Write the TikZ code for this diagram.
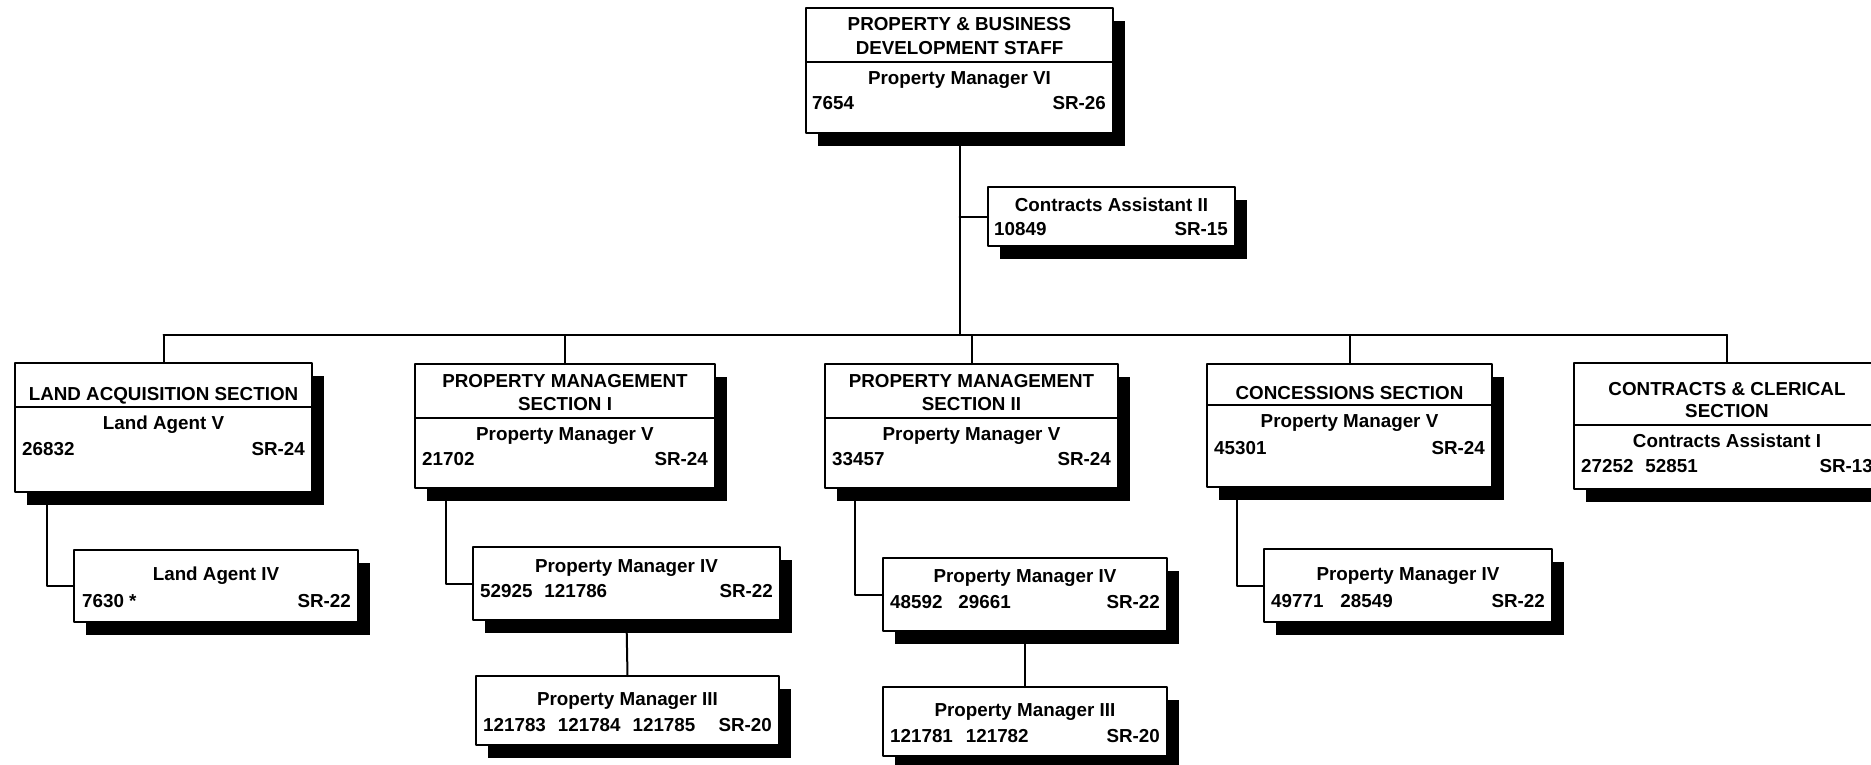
\documentclass[tikz,border=0pt]{standalone}
\usepackage{fontspec}
\setmainfont{Liberation Sans}
\usetikzlibrary{shadows}
\tikzset{
  posbox/.style={draw, fill=white, line width=2pt, inner sep=0pt, outer sep=0pt, anchor=north west,
    drop shadow={shadow xshift=12pt, shadow yshift=-13pt, fill=black, opacity=1}},
  txt/.style={inner sep=0pt, font=\bfseries\fontsize{18.8}{22}\selectfont},
  ctr/.style={txt, anchor=base},
  lft/.style={txt, anchor=base west},
  rgt/.style={txt, anchor=base east},
  link/.style={line width=2pt}
}
\begin{document}
\begin{tikzpicture}[line cap=round,line join=round,x=1pt,y=-1pt]
	\useasboundingbox (0,0) rectangle (1871,765);
	\clip (0,0) rectangle (1871,765);
	\coordinate (bus) at (0,335);
	% head office
	\node[posbox, minimum width=307, minimum height=125] (top) at (806,8) {};
	\node[posbox, minimum width=247, minimum height=59] (ca2) at (988,187) {};
	% sections
	\node[posbox, minimum width=297, minimum height=129] (land) at (15,363) {};
	\node[posbox, minimum width=300, minimum height=124] (pm1) at (415,364) {};
	\node[posbox, minimum width=293, minimum height=124] (pm2) at (825,364) {};
	\node[posbox, minimum width=285, minimum height=123] (conc) at (1207,364) {};
	\node[posbox, minimum width=306, minimum height=126] (cler) at (1574,363) {};
	% lower posts
	\node[posbox, minimum width=284, minimum height=72] (la4) at (74,550) {};
	\node[posbox, minimum width=307, minimum height=73] (pm4a) at (473,547) {};
	\node[posbox, minimum width=303, minimum height=69] (pm3a) at (476,676) {};
	\node[posbox, minimum width=284, minimum height=73] (pm4b) at (883,558) {};
	\node[posbox, minimum width=284, minimum height=69] (pm3b) at (883,687) {};
	\node[posbox, minimum width=288, minimum height=73] (pm4c) at (1264,549) {};
	% dividers
	\draw[link] ([yshift=-54pt]top.north west) -- ([yshift=-54pt]top.north east);
	\draw[link] ([yshift=-44pt]land.north west) -- ([yshift=-44pt]land.north east);
	\draw[link] ([yshift=-54pt]pm1.north west) -- ([yshift=-54pt]pm1.north east);
	\draw[link] ([yshift=-54pt]pm2.north west) -- ([yshift=-54pt]pm2.north east);
	\draw[link] ([yshift=-41pt]conc.north west) -- ([yshift=-41pt]conc.north east);
	\draw[link] ([yshift=-62pt]cler.north west) -- ([yshift=-62pt]cler.north east);
	% connectors
	\draw[link] (top.south) -- (top.south |- bus);
	\draw[link] (ca2.west) -- (ca2.west -| top.south);
	\draw[link] (land.north |- bus) -- (cler.north |- bus);
	\foreach \s in {land,pm1,pm2,conc,cler}
		\draw[link] (\s.north) -- (\s.north |- bus);
	\draw[link] ([xshift=32pt]land.south west) |- (la4.west);
	\draw[link] ([xshift=31pt]pm1.south west) |- (pm4a.west);
	\draw[link] ([xshift=30pt]pm2.south west) |- (pm4b.west);
	\draw[link] ([xshift=30pt]conc.south west) |- (pm4c.west);
	\draw[link] (pm4a.south) -- (pm3a.north);
	\draw[link] (pm4b.south) -- (pm3b.north);
	% texts
	\node[ctr] (top-h1) at ([yshift=-23pt]top.north) {PROPERTY \& BUSINESS};
	\node[ctr] (top-h2) at ([yshift=-47pt]top.north) {DEVELOPMENT STAFF};
	\node[ctr] (top-t) at ([yshift=-77pt]top.north) {Property Manager VI};
	\node[lft] (top-n) at ([xshift=6pt,yshift=-102pt]top.north west) {7654};
	\node[rgt] (top-g) at ([xshift=-7pt,yshift=-102pt]top.north east) {SR-26};
	\node[ctr] (ca2-t) at ([yshift=-24pt]ca2.north) {Contracts Assistant II};
	\node[lft] (ca2-n) at ([xshift=6pt,yshift=-48pt]ca2.north west) {10849};
	\node[rgt] (ca2-g) at ([xshift=-7pt,yshift=-48pt]ca2.north east) {SR-15};
	\node[ctr] (land-h) at ([yshift=-37pt]land.north) {LAND ACQUISITION SECTION};
	\node[ctr] (land-t) at ([yshift=-66pt]land.north) {Land Agent V};
	\node[lft] (land-n) at ([xshift=7pt,yshift=-92pt]land.north west) {26832};
	\node[rgt] (land-g) at ([xshift=-7pt,yshift=-92pt]land.north east) {SR-24};
	\node[ctr] (pm1-h1) at ([yshift=-23pt]pm1.north) {PROPERTY MANAGEMENT};
	\node[ctr] (pm1-h2) at ([yshift=-46pt]pm1.north) {SECTION I};
	\node[ctr] (pm1-t) at ([yshift=-76pt]pm1.north) {Property Manager V};
	\node[lft] (pm1-n) at ([xshift=7pt,yshift=-101pt]pm1.north west) {21702};
	\node[rgt] (pm1-g) at ([xshift=-7pt,yshift=-101pt]pm1.north east) {SR-24};
	\node[ctr] (pm2-h1) at ([yshift=-23pt]pm2.north) {PROPERTY MANAGEMENT};
	\node[ctr] (pm2-h2) at ([yshift=-46pt]pm2.north) {SECTION II};
	\node[ctr] (pm2-t) at ([yshift=-76pt]pm2.north) {Property Manager V};
	\node[lft] (pm2-n) at ([xshift=7pt,yshift=-101pt]pm2.north west) {33457};
	\node[rgt] (pm2-g) at ([xshift=-7pt,yshift=-101pt]pm2.north east) {SR-24};
	\node[ctr] (conc-h) at ([yshift=-35pt]conc.north) {CONCESSIONS SECTION};
	\node[ctr] (conc-t) at ([yshift=-63pt]conc.north) {Property Manager V};
	\node[lft] (conc-n) at ([xshift=7pt,yshift=-90pt]conc.north west) {45301};
	\node[rgt] (conc-g) at ([xshift=-7pt,yshift=-90pt]conc.north east) {SR-24};
	\node[ctr] (cler-h1) at ([yshift=-32pt]cler.north) {CONTRACTS \& CLERICAL};
	\node[ctr] (cler-h2) at ([yshift=-54pt]cler.north) {SECTION};
	\node[ctr] (cler-t) at ([yshift=-84pt]cler.north) {Contracts Assistant I};
	\node[lft] (cler-n) at ([xshift=7pt,yshift=-109pt]cler.north west) {27252\hspace{12pt}52851};
	\node[rgt] (cler-g) at ([xshift=-7pt,yshift=-109pt]cler.north east) {SR-13};
	\node[ctr] (la4-t) at ([yshift=-30pt]la4.north) {Land Agent IV};
	\node[lft] (la4-n) at ([xshift=8pt,yshift=-57pt]la4.north west) {7630 *};
	\node[rgt] (la4-g) at ([xshift=-7pt,yshift=-57pt]la4.north east) {SR-22};
	\node[ctr] (pm4a-t) at ([yshift=-25pt]pm4a.north) {Property Manager IV};
	\node[lft] (pm4a-n) at ([xshift=7pt,yshift=-50pt]pm4a.north west) {52925\hspace{12pt}121786};
	\node[rgt] (pm4a-g) at ([xshift=-7pt,yshift=-50pt]pm4a.north east) {SR-22};
	\node[ctr] (pm3a-t) at ([yshift=-29pt]pm3a.north) {Property Manager III};
	\node[lft] (pm3a-n) at ([xshift=7pt,yshift=-55pt]pm3a.north west) {121783\hspace{12pt}121784\hspace{12pt}121785};
	\node[rgt] (pm3a-g) at ([xshift=-7pt,yshift=-55pt]pm3a.north east) {SR-20};
	\node[ctr] (pm4b-t) at ([yshift=-24pt]pm4b.north) {Property Manager IV};
	\node[lft] (pm4b-n) at ([xshift=7pt,yshift=-50pt]pm4b.north west) {48592\hspace{16pt}29661};
	\node[rgt] (pm4b-g) at ([xshift=-7pt,yshift=-50pt]pm4b.north east) {SR-22};
	\node[ctr] (pm3b-t) at ([yshift=-29pt]pm3b.north) {Property Manager III};
	\node[lft] (pm3b-n) at ([xshift=7pt,yshift=-55pt]pm3b.north west) {121781\hspace{13pt}121782};
	\node[rgt] (pm3b-g) at ([xshift=-7pt,yshift=-55pt]pm3b.north east) {SR-20};
	\node[ctr] (pm4c-t) at ([yshift=-31pt]pm4c.north) {Property Manager IV};
	\node[lft] (pm4c-n) at ([xshift=7pt,yshift=-58pt]pm4c.north west) {49771\hspace{17pt}28549};
	\node[rgt] (pm4c-g) at ([xshift=-7pt,yshift=-58pt]pm4c.north east) {SR-22};
\end{tikzpicture}
\end{document}
